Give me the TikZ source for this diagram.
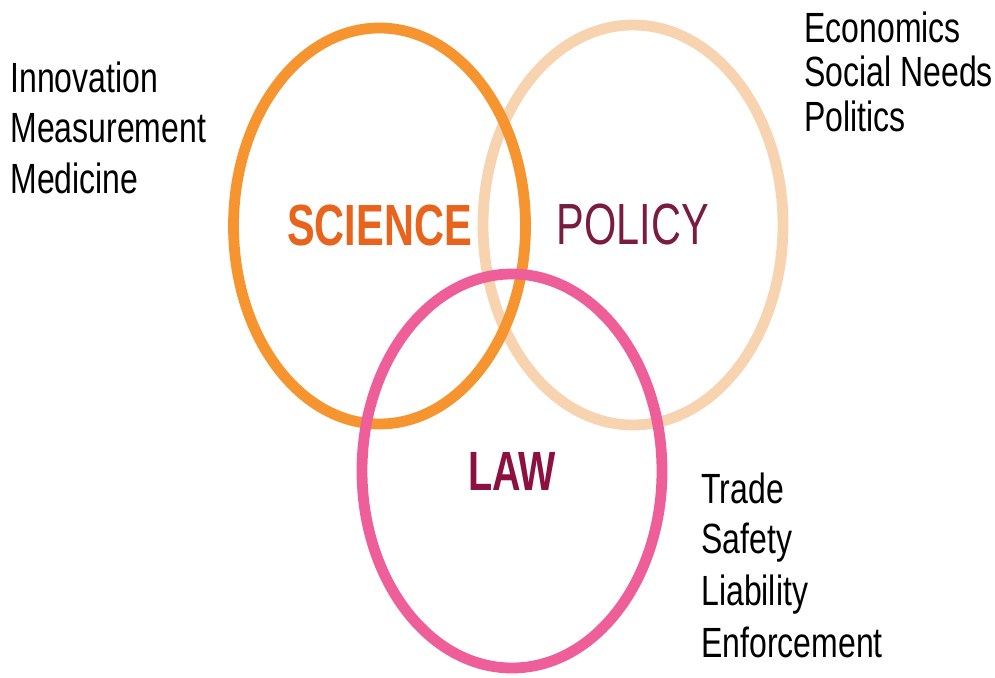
\documentclass[tikz,border=0pt]{standalone}
\usepackage{fontspec}
\setmainfont{Liberation Sans}
\usepackage{tikz}

\definecolor{sciorange}{HTML}{F6952F}
\definecolor{scitext}{HTML}{E8631C}
\definecolor{polpeach}{HTML}{F7D3AF}
\definecolor{poltext}{HTML}{7A1C40}
\definecolor{lawpink}{HTML}{EE5E99}
\definecolor{lawtext}{HTML}{8C1040}

\begin{document}
\begin{tikzpicture}[x=0.5pt,y=-0.5pt,
		ring/.style={line width=5.4pt},
		field/.style={font=\fontsize{20.75}{24}\selectfont, yscale=1.4, transform shape, inner sep=0pt},
		item/.style={anchor=base west, font=\fontsize{16}{18}\selectfont, yscale=1.32, transform shape, inner sep=0pt}]
	
	\useasboundingbox (0,0) rectangle (995,678);
	\fill[white] (0,0) rectangle (995,678);
	
	\coordinate (scic) at (379.5,226);
	\coordinate (polc) at (633,225);
	\coordinate (lawc) at (512,471);
	
	% the three rings
	\draw[ring, polpeach] (polc) ellipse [x radius=150, y radius=200];
	\draw[ring, sciorange] (scic) ellipse [x radius=146, y radius=198];
	\draw[ring, lawpink] (lawc) ellipse [x radius=150, y radius=197];
	
	\node[field, scitext, font=\fontsize{20.75}{24}\selectfont\bfseries] (science) at (scic) {SCIENCE};
	\node[field, poltext] (policy) at (polc) {POLICY};
	\node[field, lawtext, font=\fontsize{19.75}{24}\selectfont\bfseries] (law) at (lawc) {LAW};
	
	% science
	\node[item] (innov) at (10,93) {Innovation};
	\node[item] (measure) at (10,143) {Measurement};
	\node[item] (medic) at (10,194) {Medicine};
	
	% policy
	\node[item] (econ) at (804,43) {Economics};
	\node[item] (social) at (804,87) {Social Needs};
	\node[item] (polit) at (804,132) {Politics};
	
	% law
	\node[item] (trade) at (701,503) {Trade};
	\node[item] (safety) at (701,553) {Safety};
	\node[item] (liab) at (701,605) {Liability};
	\node[item] (enforce) at (701,657) {Enforcement};
\end{tikzpicture}
\end{document}
